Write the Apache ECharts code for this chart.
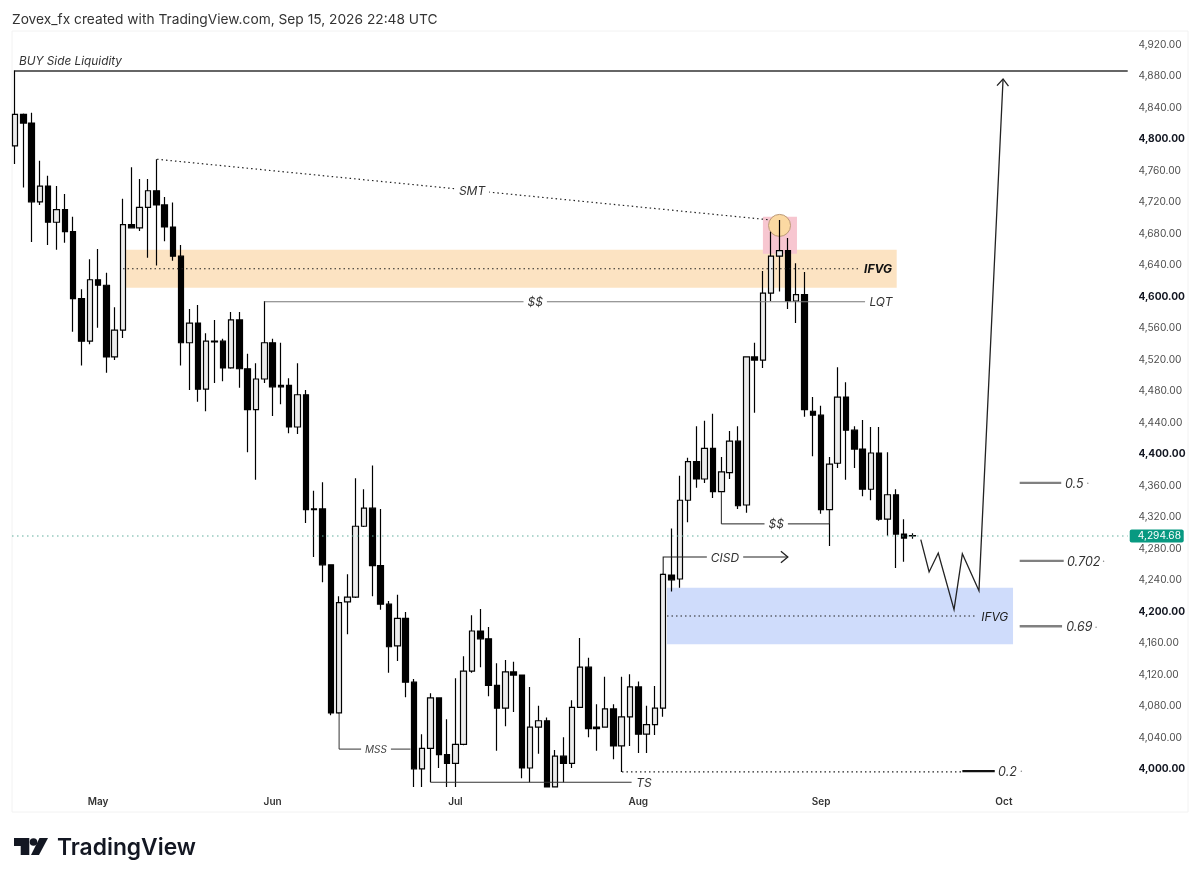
<!DOCTYPE html>
<html>
<head>
<meta charset="utf-8">
<title>Zovex_fx chart</title>
<script src="https://cdn.jsdelivr.net/npm/echarts@6/dist/echarts.min.js"></script>
<style>
  html, body { margin: 0; padding: 0; background: #fff; }
  #chart { width: 1200px; height: 882px; }
</style>
</head>
<body>
<div id="chart"></div>
<script>
// daily candles
const opens = [
  4790,4830,4819,4719,4739,4693,4709,4681,4596,4542,4620,4613,4522,4556,4690,4686,4712,4733,4715,4687,
  4650,4540,4565,4481,4542,4542,4508,4569,4507,4455,4494,4540,4486,4486,4433,4474,4329,4329,4258,4070,
  4211,4217,4307,4330,4257,4208,4155,4190,4109,3999,4025,4089,4017,4006,4030,4123,4174,4164,4105,4076,
  4122,4118,4000,4052,4060,3976,4015,4006,4077,4128,4052,4052,4075,4028,4065,4103,4043,4055,4076,4245,
  4240,4340,4389,4367,4406,4351,4375,4415,4334,4522,4518,4603,4650,4657,4593,4601,4453,4448,4328,4387,
  4471,4429,4405,4354,4400,4316,4347,4297,4295
];
const closes = [
  4830,4819,4719,4739,4693,4709,4681,4596,4542,4620,4613,4522,4556,4690,4686,4712,4733,4715,4687,4650,
  4540,4565,4481,4542,4541,4508,4569,4507,4455,4494,4540,4484,4484,4433,4474,4328,4328,4258,4070,4210,
  4217,4307,4330,4257,4208,4154,4190,4109,3999,4025,4089,4017,4006,4030,4123,4174,4164,4105,4076,4122,
  4118,4000,4052,4060,3976,4015,4006,4077,4128,4050,4050,4075,4028,4065,4103,4043,4055,4076,4246,4239,
  4340,4389,4367,4406,4351,4376,4415,4333,4522,4518,4603,4650,4657,4593,4601,4455,4448,4328,4386,4471,
  4429,4405,4354,4400,4316,4347,4297,4292,4294.68
];
const lows = [
  4767,4737,4668,4715,4664,4658,4667,4554,4511,4538,4559,4502,4518,4546,4685,4682,4648,4638,4669,4644,
  4511,4480,4465,4453,4489,4491,4507,4483,4401,4366,4489,4447,4462,4425,4424,4311,4268,4236,4067,4069,
  4170,4216,4306,4218,4201,4121,4136,4090,3976,3976,3982,4000,3976,3976,4029,4121,4128,4091,4022,4053,
  4071,3987,3982,4018,3976,3976,3982,4000,4077,4039,4022,4052,4011,3995,4028,4019,4019,4042,4065,4224,
  4229,4312,4356,4362,4343,4351,4367,4329,4324,4451,4508,4593,4605,4583,4565,4446,4396,4323,4282,4381,
  4366,4381,4345,4340,4314,4295,4254,4262,4291
];
const highs = [
  4886,4831,4832,4771,4752,4739,4729,4700,4608,4646,4659,4629,4585,4723,4763,4748,4748,4773,4725,4718,
  4664,4583,4588,4552,4569,4545,4579,4579,4526,4514,4593,4545,4540,4495,4514,4480,4352,4363,4258,4218,
  4246,4368,4354,4384,4329,4212,4220,4198,4113,4043,4095,4089,4062,4114,4142,4194,4202,4179,4133,4137,
  4135,4118,4103,4079,4064,4023,4039,4086,4165,4140,4081,4116,4081,4116,4119,4110,4079,4104,4247,4304,
  4371,4394,4434,4441,4450,4395,4428,4434,4523,4540,4631,4681,4696,4673,4641,4630,4471,4460,4395,4509,
  4490,4434,4442,4433,4433,4401,4354,4316,4298
];

const lastPrice = 4294.68;
const barCount = 134;            // includes the empty space right of the last bar
const monthIndex = [10, 31, 53, 75, 97, 119];
const monthNames = ['May', 'Jun', 'Jul', 'Aug', 'Sep', 'Oct'];
const categories = Array.from({ length: barCount }, (_, i) => {
  const m = monthIndex.indexOf(i);
  return m >= 0 ? monthNames[m] : 'd' + i;
});

// drawings, as [bar index, price]
const orangeZone = [[13.36, 4658], [106.1, 4610]];
const blueZone = [[78.46, 4229], [120.1, 4157]];
const pinkZone = [[90, 4700], [94.1, 4653]];
const sweepCircle = [92, 4689];

const buySideLine = [[0, 4885], [133.9, 4885]];
const smtLine = [[17.09, 4773], [90.86, 4696]];
const ifvgUpperLine = [[13, 4634], [101.7, 4634]];
const ifvgLowerLine = [[78.46, 4193], [115.76, 4193]];
const lqtLine = [[30, 4592], [102.3, 4592]];
const mssLine = [[39, 4070], [39, 4024], [47.6, 4024]];
const tsLine = [[50, 3982], [74.2, 3982]];
const tsDotted = [[73.04, 3995], [114, 3995]];
const cisdLine = [[78, 4246], [78, 4268], [93, 4268]];
const lowerDollarLine = [[85, 4351], [85, 4310], [98, 4310], [98, 4328]];
const projection = [[109, 4290], [110, 4249], [111.1, 4273], [113, 4201], [114, 4272], [116, 4225], [118.9, 4875]];

// fib levels: label, price, line from, line to, text at, dot at
const fibLabels = ['0.5', '0.702', '0.69', '0.2'];
const fibPrices = [4362, 4263, 4180, 3996];
const fibFrom = [120.9, 120.9, 120.9, 114];
const fibTo = [125.9, 126.2, 126, 117.9];
const fibTextAt = [126.35, 126.6, 126.5, 118.3];
const fibDotAt = [129.1, 131, 130.1, 121.1];

// text on the chart: text, bar index, price, kind
const chartTexts = [
  ['BUY Side Liquidity', 0.48, 4899, 'left'],
  ['SMT', 55, 4734, 'gap'],
  ['$$', 62.6, 4592, 'gap'],
  ['LQT', 104.2, 4592, 'gap'],
  ['IFVG', 103.85, 4634, 'bold'],
  ['IFVG', 117.9, 4193, 'plain'],
  ['MSS', 43.44, 4024, 'small'],
  ['TS', 75.7, 3982, 'gap'],
  ['CISD', 85.44, 4268, 'gap'],
  ['$$', 91.6, 4310, 'gap']
];

const chart = echarts.init(document.getElementById('chart'), null, { renderer: 'canvas' });
const candleData = opens.map((o, i) => [o, closes[i], lows[i], highs[i]]);

function polyline(api, pts, color, width, dash) {
  return {
    type: 'polyline',
    shape: { points: pts.map(p => api.coord(p)) },
    style: { fill: null, stroke: color, lineWidth: width, lineDash: dash || null }
  };
}

function rect(api, zone, fill) {
  const a = api.coord(zone[0]);
  const b = api.coord(zone[1]);
  return { type: 'rect', shape: { x: a[0], y: a[1], width: b[0] - a[0], height: b[1] - a[1] }, style: { fill: fill } };
}

function textEl(x, y, text, font, fill, align, bg, pad) {
  return {
    type: 'text', x: x, y: y + 1,
    style: { text: text, font: font, fill: fill, align: align || 'center', verticalAlign: 'middle', backgroundColor: bg || null, padding: pad || 0 }
  };
}

function arrowHead(api, from, tip) {
  const a = api.coord(from);
  const b = api.coord(tip);
  const ang = Math.atan2(b[1] - a[1], b[0] - a[0]);
  const barb = d => [b[0] + 9 * Math.cos(ang + d), b[1] + 9 * Math.sin(ang + d)];
  return {
    type: 'polyline',
    shape: { points: [barb(2.45), b, barb(-2.45)] },
    style: { fill: null, stroke: '#222', lineWidth: 1.3 }
  };
}

function renderZones(params, api) {
  const c = api.coord(sweepCircle);
  return {
    type: 'group',
    children: [
      rect(api, orangeZone, '#fce3c2'),
      rect(api, blueZone, '#cfdcfb'),
      rect(api, pinkZone, '#f7c6d0'),
      { type: 'circle', shape: { cx: c[0], cy: c[1], r: 11 }, style: { fill: '#fbd9a2', stroke: '#bb9a78', lineWidth: 1 } }
    ]
  };
}

function renderDrawings(params, api) {
  const dots = [1.5, 3];
  const kids = [
    polyline(api, [[-0.36, lastPrice], [133.9, lastPrice]], '#5fae9d', 1.1, [1.5, 3.5]),
    polyline(api, buySideLine, '#333', 1.4),
    polyline(api, smtLine, '#222', 1.2, dots),
    polyline(api, ifvgUpperLine, '#222', 1.2, dots),
    polyline(api, ifvgLowerLine, '#222', 1.2, dots),
    polyline(api, lqtLine, '#777', 1.1),
    polyline(api, mssLine, '#333', 1),
    polyline(api, tsLine, '#333', 1.1),
    polyline(api, tsDotted, '#222', 1.2, dots),
    polyline(api, cisdLine, '#222', 1.1),
    arrowHead(api, cisdLine[1], cisdLine[2]),
    polyline(api, lowerDollarLine, '#222', 1),
    polyline(api, projection, '#222', 1.3),
    arrowHead(api, projection[5], projection[6])
  ];

  fibLabels.forEach((label, i) => {
    const col = label === '0.2' ? '#111' : '#808080';
    kids.push(polyline(api, [[fibFrom[i], fibPrices[i]], [fibTo[i], fibPrices[i]]], col, 2.3));
    const t = api.coord([fibTextAt[i], fibPrices[i]]);
    kids.push(textEl(t[0], t[1], label, 'italic 12.5px Inter', '#333', 'left'));
    const d = api.coord([fibDotAt[i], fibPrices[i]]);
    kids.push(textEl(d[0], d[1], '·', '11px Inter', '#888'));
  });

  chartTexts.forEach(row => {
    const p = api.coord([row[1], row[2]]);
    if (row[3] === 'left') kids.push(textEl(p[0], p[1], row[0], 'italic 11.8px Inter', '#333', 'left'));
    if (row[3] === 'gap') kids.push(textEl(p[0], p[1], row[0], 'italic 12px Inter', '#333', 'center', '#fff', [1, 4]));
    if (row[3] === 'small') kids.push(textEl(p[0], p[1], row[0], 'italic 10px Inter', '#444', 'center', '#fff', [1, 4]));
    if (row[3] === 'plain') kids.push(textEl(p[0], p[1], row[0], 'italic 12px Inter', '#222'));
    if (row[3] === 'bold') kids.push(textEl(p[0], p[1], row[0], 'italic bold 12px Inter', '#111'));
  });

  // last price tag on the axis
  const lp = api.coord([133.9, lastPrice]);
  kids.push({ type: 'rect', shape: { x: lp[0] + 2, y: lp[1] - 6.5, width: 54, height: 13, r: 2 }, style: { fill: '#089981' } });
  kids.push(textEl(lp[0] + 10, lp[1] - 1, lastPrice.toLocaleString('en-US', { minimumFractionDigits: 2 }), '10.2px Inter', '#fff', 'left'));

  return { type: 'group', children: kids };
}

chart.setOption({
  animation: false,
  backgroundColor: '#fff',
  textStyle: { fontFamily: 'Inter' },
  grid: { left: 10.85, top: 27.75, width: 1113.54, height: 771.75, containLabel: false },
  xAxis: [
    {
      type: 'category',
      data: categories,
      boundaryGap: true,
      axisLine: { show: false },
      axisTick: { show: false },
      splitLine: { show: false },
      axisLabel: {
        interval: (i) => monthIndex.includes(i),
        margin: -3,
        fontFamily: 'Inter',
        fontSize: 10,
        fontWeight: 600,
        color: '#333'
      }
    },
    { type: 'value', show: false, min: -0.5, max: barCount - 0.5, splitLine: { show: false } }
  ],
  yAxis: {
    type: 'value',
    position: 'right',
    min: 3960,
    max: 4940,
    interval: 40,
    axisLine: { show: false },
    axisTick: { show: false },
    splitLine: { show: false },
    axisLabel: {
      margin: 14,
      padding: [2, 0, 0, 0],
      fontFamily: 'Inter',
      fontSize: 10.2,
      color: '#4d4d4d',
      formatter: (v) => {
        if (v < 4000 || v > 4920) return '';
        const s = v.toLocaleString('en-US', { minimumFractionDigits: 2 });
        return v % 200 === 0 ? '{b|' + s + '}' : s;
      },
      rich: { b: { fontFamily: 'Inter', fontSize: 10.2, fontWeight: 700, color: '#131722' } }
    }
  },
  graphic: [
    { type: 'rect', z: -1, shape: { x: 12, y: 31, width: 1176, height: 781 }, style: { fill: null, stroke: '#f2f2f2', lineWidth: 1 } },
    { type: 'text', x: 12, y: 20, style: { text: 'Zovex_fx created with TradingView.com, Sep 15, 2026 22:48 UTC', font: '13.75px Inter', fill: '#333', verticalAlign: 'middle' } },
    // logo
    { type: 'polygon', shape: { points: [[14, 838], [29.3, 838], [29.3, 855], [20.7, 855], [20.7, 846], [14, 846]] }, style: { fill: '#131722' } },
    { type: 'circle', shape: { cx: 33.5, cy: 842, r: 3.8 }, style: { fill: '#131722' } },
    { type: 'polygon', shape: { points: [[39.5, 838], [48, 838], [39, 855], [31, 855]] }, style: { fill: '#131722' } },
    { type: 'text', x: 57, y: 848, style: { text: 'TradingView', font: '600 22.8px Inter', fill: '#131722', verticalAlign: 'middle' } }
  ],
  series: [
    {
      type: 'custom',
      xAxisIndex: 1,
      z: 1,
      silent: true,
      renderItem: renderZones,
      data: [[0, 4400]]
    },
    {
      type: 'candlestick',
      xAxisIndex: 0,
      z: 3,
      barWidth: 6,
      data: candleData,
      itemStyle: { color: '#ececec', color0: '#000', borderColor: '#000', borderColor0: '#000', borderWidth: 1.2 }
    },
    {
      type: 'custom',
      xAxisIndex: 1,
      z: 5,
      silent: true,
      renderItem: renderDrawings,
      data: [[0, 4400]]
    }
  ]
});
</script>
</body>
</html>
